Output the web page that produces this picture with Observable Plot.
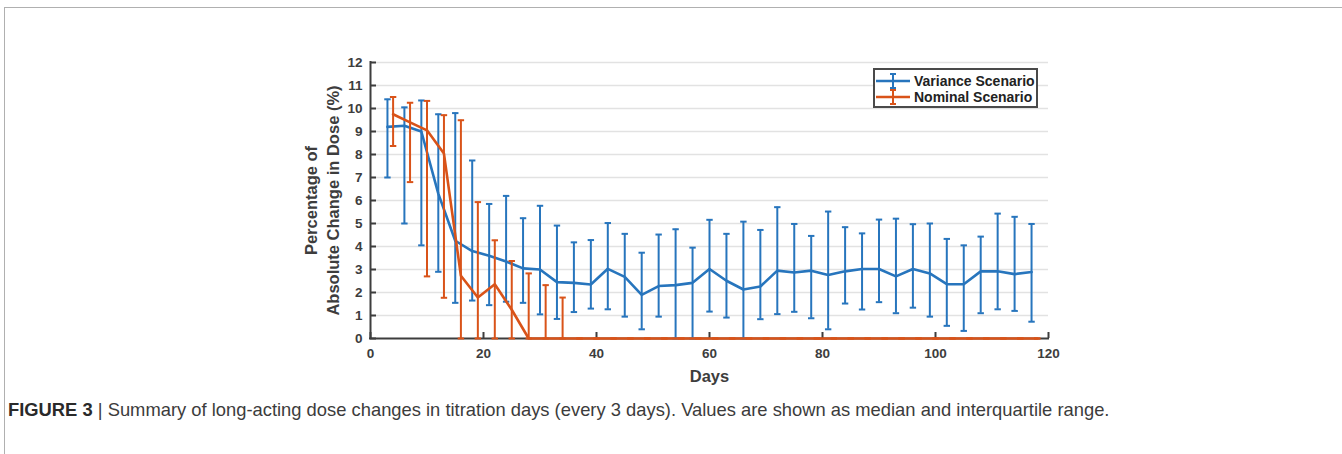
<!DOCTYPE html>
<html><head><meta charset="utf-8">
<script src="https://cdn.jsdelivr.net/npm/d3@7"></script>
<script src="https://cdn.jsdelivr.net/npm/@observablehq/plot@0.6"></script>
<style>
body{margin:0;background:#fff;}
#wrap{position:relative;width:1342px;height:454px;overflow:hidden;font-family:"Liberation Sans",Arial,sans-serif;background:#fff}
#frameTop{position:absolute;left:4px;top:7px;right:0;height:0;border-top:1px solid #b0b0b0}
#frameLeft{position:absolute;left:4px;top:7px;bottom:0;width:0;border-left:1px solid #b0b0b0}
#chart{position:absolute;left:0;top:0}
#caption{position:absolute;left:8px;top:400px;white-space:nowrap;color:#3c3c3c;font-size:16px;line-height:20px}
#caption b{color:#2a2a2a}
</style></head><body>
<div id="wrap">
  <div id="frameTop"></div><div id="frameLeft"></div>
  <div id="chart"></div>
  <div id="caption"><b>FIGURE 3</b> | Summary of long-acting dose changes in titration days (every 3 days). Values are shown as median and interquartile range.</div>
</div>
<script>
// ---- data ----
const seriesNames = ["Variance Scenario", "Nominal Scenario"];
const varianceDays = [3,6,9,12,15,18,21,24,27,30,33,36,39,42,45,48,51,54,57,60,63,66,69,72,75,78,81,84,87,90,93,96,99,102,105,108,111,114,117];
const varianceMedian = [9.2,9.25,9.0,6.3,4.25,3.8,3.6,3.35,3.05,3.0,2.45,2.42,2.35,3.03,2.68,1.9,2.28,2.32,2.42,3.02,2.51,2.13,2.26,2.95,2.87,2.95,2.76,2.92,3.02,3.02,2.7,3.02,2.83,2.36,2.36,2.92,2.92,2.8,2.89];
const varianceQ1 = [7.0,5.0,4.05,2.9,1.55,1.65,1.45,1.6,1.55,1.05,0.85,1.15,1.3,1.27,0.95,0.4,0.95,0,0,1.17,0.91,0,0.84,1.06,1.16,0.88,0.4,1.52,1.26,1.58,1.1,1.34,0.95,0.55,0.33,1.1,1.27,1.2,0.73];
const varianceQ3 = [10.4,10.05,10.35,9.75,9.8,7.74,5.85,6.2,5.23,5.77,4.91,4.18,4.28,5.02,4.55,3.73,4.52,4.75,3.95,5.16,4.55,5.08,4.72,5.71,4.98,4.46,5.52,4.84,4.57,5.17,5.21,4.97,5.0,4.33,4.05,4.43,5.43,5.29,4.98];

const nominalDays = [4,7,10,13,16,19,22,25,28,31,34,37,40,43,46,49,52,55,58,61,64,67,70,73,76,79,82,85,88,91,94,97,100,103,106,109,112,115,118];
const nominalMedian = [9.75,9.4,9.05,8.04,2.73,1.78,2.36,1.25,0,0,0,0,0,0,0,0,0,0,0,0,0,0,0,0,0,0,0,0,0,0,0,0,0,0,0,0,0,0,0];
const nominalQ1 = [8.37,6.8,2.7,1.77,0,0,0,0,0,0,0,0,0,0,0,0,0,0,0,0,0,0,0,0,0,0,0,0,0,0,0,0,0,0,0,0,0,0,0];
const nominalQ3 = [10.5,10.25,10.33,9.71,9.49,5.93,4.27,3.37,2.83,2.32,1.78,0,0,0,0,0,0,0,0,0,0,0,0,0,0,0,0,0,0,0,0,0,0,0,0,0,0,0,0];

const xTicks = [0,20,40,60,80,100,120];
const yTicks = [0,1,2,3,4,5,6,7,8,9,10,11,12];
const xTitle = "Days";
const yTitleLines = ["Percentage of", "Absolute Change in Dose (%)"];

// ---- style ----
const BLUE = "#2775bd", ORANGE = "#d95319", AXIS = "#3d3d3d", GRID = "#e2e2e2";
const FONT = "Liberation Sans, Arial, sans-serif";
const W = 1342, H = 395, mL = 370, mR = 294, mT = 62, mB = 57;
const plotW = W - mL - mR, plotH = H - mT - mB;

const variance = varianceDays.map((d, i) => ({day: d, median: varianceMedian[i], q1: varianceQ1[i], q3: varianceQ3[i]}));
const nominal = nominalDays.map((d, i) => ({day: d, median: nominalMedian[i], q1: nominalQ1[i], q3: nominalQ3[i]}));

const capSymbol = {draw(ctx, size) { const r = Math.sqrt(size / Math.PI); ctx.moveTo(-r, 0); ctx.lineTo(r, 0); }};

function seriesMarks(data, color) {
  return [
    Plot.ruleX(data, {x: "day", y1: "q1", y2: "q3", stroke: color, strokeWidth: 2}),
    Plot.dot(data, {x: "day", y: "q1", symbol: capSymbol, r: 3.2, stroke: color, strokeWidth: 2, fill: "none"}),
    Plot.dot(data, {x: "day", y: "q3", symbol: capSymbol, r: 3.2, stroke: color, strokeWidth: 2, fill: "none"}),
    Plot.line(data, {x: "day", y: "median", stroke: color, strokeWidth: 2.6, strokeLinejoin: "round"})
  ];
}

const chart = Plot.plot({
  width: W, height: H,
  marginLeft: mL, marginRight: mR, marginTop: mT, marginBottom: mB,
  x: {domain: [0, 120]},
  y: {domain: [0, 12]},
  style: {fontFamily: FONT, background: "transparent", overflow: "visible"},
  marks: [
    Plot.ruleY(yTicks.filter(d => d > 0), {stroke: GRID, strokeWidth: 1.6}),
    Plot.axisY(yTicks, {tickSize: 0, tickPadding: 8, fontSize: 13.5, fontWeight: "bold", color: AXIS, label: null}),
    Plot.axisX(xTicks, {tickSize: 0, tickPadding: 10, fontSize: 13.5, fontWeight: "bold", color: AXIS, label: null}),
    Plot.tickY(yTicks, {y: d => d, insetRight: plotW - 6, stroke: AXIS, strokeWidth: 2}),
    Plot.tickX(xTicks, {x: d => d, insetTop: plotH - 6, stroke: AXIS, strokeWidth: 2}),
    Plot.ruleX([0], {stroke: AXIS, strokeWidth: 2, strokeLinecap: "square"}),
    Plot.ruleY([0], {stroke: AXIS, strokeWidth: 2, strokeLinecap: "square"}),
    ...seriesMarks(variance, BLUE),
    ...seriesMarks(nominal, ORANGE),
    Plot.text([yTitleLines[0]], {frameAnchor: "left", textAnchor: "middle", dx: -59, rotate: -90, fontSize: 16.5, fontWeight: "bold", fill: AXIS}),
    Plot.text([yTitleLines[1]], {frameAnchor: "left", textAnchor: "middle", dx: -37, rotate: -90, fontSize: 16.5, fontWeight: "bold", fill: AXIS}),
    Plot.text([xTitle], {frameAnchor: "bottom", dy: 43, fontSize: 16.5, fontWeight: "bold", fill: AXIS})
  ]
});
document.getElementById("chart").appendChild(chart);

// ---- legend ----
const svg = d3.select(chart);
const lg = svg.append("g").attr("transform", "translate(874,69)");
lg.append("rect").attr("width", 163).attr("height", 38).attr("fill", "white").attr("stroke", "#4a4a4a").attr("stroke-width", 2);
[[BLUE, 12], [ORANGE, 28]].forEach(([c, yy], i) => {
  const g = lg.append("g").attr("transform", `translate(0,${yy})`);
  g.append("line").attr("x1", 2).attr("x2", 36).attr("y1", 0).attr("y2", 0).attr("stroke", c).attr("stroke-width", 2.6);
  g.append("line").attr("x1", 19).attr("x2", 19).attr("y1", -7).attr("y2", 7).attr("stroke", c).attr("stroke-width", 2);
  g.append("line").attr("x1", 16).attr("x2", 22).attr("y1", -7).attr("y2", -7).attr("stroke", c).attr("stroke-width", 2);
  g.append("line").attr("x1", 16).attr("x2", 22).attr("y1", 7).attr("y2", 7).attr("stroke", c).attr("stroke-width", 2);
  g.append("text").attr("x", 40).attr("y", 5).attr("text-anchor", "start").attr("font-size", 14).attr("font-weight", "bold").attr("fill", "#222").attr("font-family", FONT).text(seriesNames[i]);
});

// ---- caption fit to reference width ----
const cap = document.getElementById("caption");
const w = cap.getBoundingClientRect().width;
cap.style.fontSize = (16 * 1102 / w) + "px";
</script>
</body></html>
